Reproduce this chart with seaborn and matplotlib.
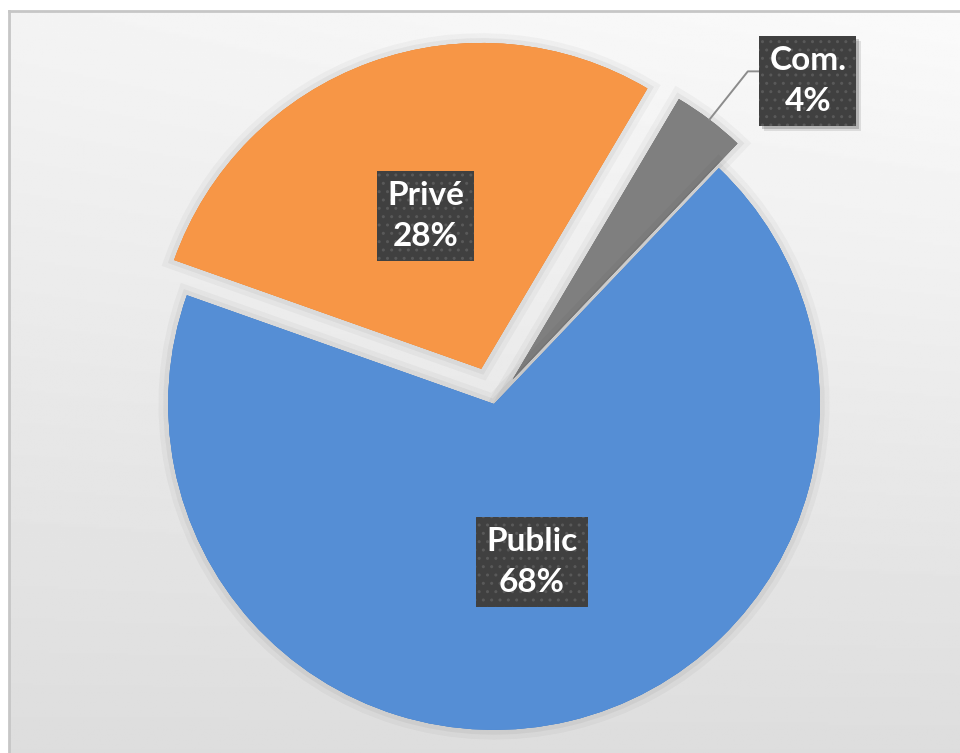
"""
Répartition Public / Privé / Com. - camembert éclaté.
"""

import numpy as np
import matplotlib
matplotlib.use("Agg")
import matplotlib.pyplot as plt
import matplotlib.patheffects as pe
from matplotlib.patches import Rectangle
import seaborn as sns

# données (parts)
labels = ["Privé", "Com.", "Public"]
values = [28.1, 3.6, 68.3]
colors = ["#F79646", "#7F7F7F", "#558ED5"]
explode = [0.115, 0.095, 0.0]

# position de l'étiquette extérieure de "Com." (coord. données)
com_label_pos = (0.963, 0.99)

sns.set_theme(style="white")
plt.rcParams["font.family"] = ["Lato", "DejaVu Sans"]

fig = plt.figure(figsize=(9.6, 7.53), dpi=100)
fig.patch.set_facecolor("white")

# fond dégradé + bordure
bg = fig.add_axes([9 / 960, 0, 1 - 9 / 960, 1 - 11 / 753])
yy, xx = np.mgrid[0:1:300j, 0:1:300j]
grad = 0.982 - 0.115 * yy - 0.027 * (1 - xx) * (1 - yy)
bg.imshow(grad, cmap="gray", vmin=0, vmax=1, aspect="auto", extent=[0, 1, 0, 1])
bg.set_xticks([])
bg.set_yticks([])
for side in ["right", "bottom"]:
    bg.spines[side].set_visible(False)
for side in ["left", "top"]:
    bg.spines[side].set_color("#c6c6c6")
    bg.spines[side].set_linewidth(2)

# camembert
ax = fig.add_axes([0.1073, -0.0558, 0.8146, 1.0385])
ax.set_facecolor("none")
halo = [pe.Stroke(linewidth=14, foreground=(0, 0, 0, 0.03)),
        pe.Stroke(linewidth=7, foreground=(0, 0, 0, 0.045)),
        pe.Normal()]
wedges, texts, autotexts = ax.pie(
    values,
    colors=colors,
    explode=explode,
    startangle=160.5,
    counterclock=False,
    autopct=lambda p: f"{p:.0f}%",
    pctdistance=0.5,
    radius=1,
    wedgeprops=dict(linewidth=0, path_effects=halo),
)
ax.set_xlim(-1.2, 1.2)
ax.set_ylim(-1.2, 1.2)
ax.set_aspect("equal")
ax.set_axis_off()

box = dict(boxstyle="square,pad=0.3", facecolor="#404040",
           edgecolor="#595959", linewidth=0, hatch="..")

label_texts = []
for lab, at in zip(labels, autotexts):
    txt = f"{lab}\n{at.get_text()}"
    x, y = com_label_pos if lab == "Com." else at.get_position()
    at.remove()
    t = ax.text(x, y, txt, color="white", zorder=6, bbox=box,
                fontsize=24, fontweight="bold", ha="center", va="center",
                linespacing=1.5)
    label_texts.append(t)

# trait de rappel vers "Com."
w = wedges[1]
mid = np.deg2rad((w.theta1 + w.theta2) / 2)
start = (w.center[0] + w.r * np.cos(mid), w.center[1] + w.r * np.sin(mid))
lx, ly = com_label_pos
ax.plot([start[0], lx - 0.184, lx - 0.147], [start[1], ly + 0.031, ly + 0.031],
        color="#8c8c8c", linewidth=1.4, zorder=4)

# ombres portées des étiquettes
fig.canvas.draw()
inv = fig.transFigure.inverted()
for t in label_texts:
    ext = t.get_bbox_patch().get_window_extent()
    for off, alpha in [(5, 0.10), (3, 0.18)]:
        (x0, y0), (x1, y1) = inv.transform([[ext.x0 + off, ext.y0 - off],
                                            [ext.x1 + off, ext.y1 - off]])
        fig.add_artist(Rectangle((x0, y0), x1 - x0, y1 - y0, transform=fig.transFigure,
                                 facecolor="black", alpha=alpha, linewidth=0, zorder=2.5))
ax.set_zorder(3)

fig.savefig("out.png", dpi=100)
